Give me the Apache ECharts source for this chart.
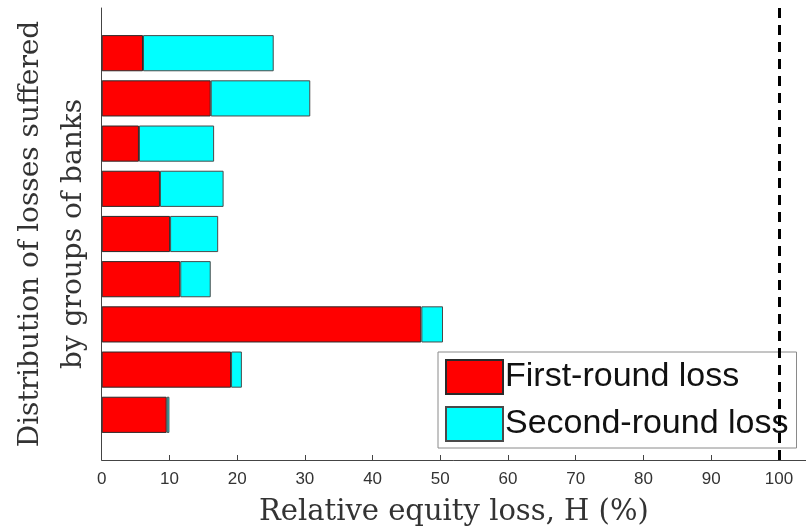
<!DOCTYPE html>
<html>
<head>
<meta charset="utf-8">
<script src="https://cdn.jsdelivr.net/npm/echarts@6/dist/echarts.min.js"></script>
<style>
  html, body { margin: 0; padding: 0; background: #fff; }
  #chart { width: 806px; height: 531px; }
</style>
</head>
<body>
<div id="chart"></div>
<script>
// Bank groups, listed top to bottom
const groups = ['G1', 'G2', 'G3', 'G4', 'G5', 'G6', 'G7', 'G8', 'G9'];
// Relative equity loss H (%) per group
const firstRound  = [6.1, 16.1, 5.5, 8.6, 10.1, 11.6, 47.2, 19.1, 9.6];
const secondRound = [19.3, 14.7, 11.1, 9.4, 7.1, 4.5, 3.2, 1.6, 0.4];
const xTicks = [0, 10, 20, 30, 40, 50, 60, 70, 80, 90, 100];
const thresholdLevel = 100;

// Empty slots at both ends so the bars sit at 1..9 on a 0..10 frame
const cats = [''].concat(groups, ['']);
const pad = arr => [null].concat(arr, [null]);

const chart = echarts.init(document.getElementById('chart'));
const axisColor = '#444';
const tickFont = 'Liberation Sans, Arial, sans-serif';
const serifFont = 'DejaVu Serif, serif';

chart.setOption({
  animation: false,
  backgroundColor: '#fff',
  grid: { left: 101.7, right: 0, top: 8, bottom: 71, outerBoundsMode: 'none', containLabel: false },
  legend: {
    orient: 'vertical',
    left: 438,
    top: 352,
    padding: [7, 8, 6, 7],
    itemGap: 11,
    itemWidth: 57,
    itemHeight: 34,
    backgroundColor: '#fff',
    borderColor: '#8a8a8a',
    borderWidth: 1,
    icon: 'rect',
    textStyle: {
      fontFamily: tickFont,
      fontSize: 34,
      color: '#111',
      lineHeight: 34,
      padding: [0, 0, 0, -3]
    },
    data: ['First-round loss', 'Second-round loss']
  },
  xAxis: {
    type: 'value',
    min: 0,
    max: 104,
    interval: 10,
    splitLine: { show: false },
    axisLine: { show: true, lineStyle: { color: axisColor, width: 1 } },
    axisTick: { show: true, inside: true, length: 5, customValues: xTicks,
                lineStyle: { color: axisColor } },
    axisLabel: { customValues: xTicks, fontFamily: tickFont, fontSize: 17,
                 color: '#333', margin: 11 },
    name: 'Relative equity loss, H (%)',
    nameLocation: 'middle',
    nameGap: 38,
    nameTextStyle: { fontFamily: serifFont, fontSize: 29, color: '#333' }
  },
  yAxis: {
    type: 'category',
    data: cats,
    inverse: true,
    boundaryGap: false,
    axisLine: { show: true, onZero: false, lineStyle: { color: axisColor, width: 1 } },
    axisTick: { show: false },
    axisLabel: { show: false },
    splitLine: { show: false },
    name: 'Distribution of losses suffered\nby groups of banks',
    nameLocation: 'middle',
    nameRotate: 90,
    nameGap: 6,
    nameTextStyle: { fontFamily: serifFont, fontSize: 28, color: '#333',
                     lineHeight: 43, align: 'center' }
  },
  series: [
    {
      name: 'First-round loss',
      type: 'bar',
      stack: 'loss',
      barWidth: '80%',
      data: pad(firstRound),
      itemStyle: { color: '#ff0000', borderColor: '#2a2a2a', borderWidth: 1 },
      markLine: {
        silent: true,
        symbol: 'none',
        label: { show: false },
        lineStyle: { color: '#000', width: 3, type: [10, 7] },
        data: [{ xAxis: thresholdLevel }]
      }
    },
    {
      name: 'Second-round loss',
      type: 'bar',
      stack: 'loss',
      barWidth: '80%',
      data: pad(secondRound),
      itemStyle: { color: '#00ffff', borderColor: '#4a4a4a', borderWidth: 1 }
    }
  ]
});
</script>
</body>
</html>
